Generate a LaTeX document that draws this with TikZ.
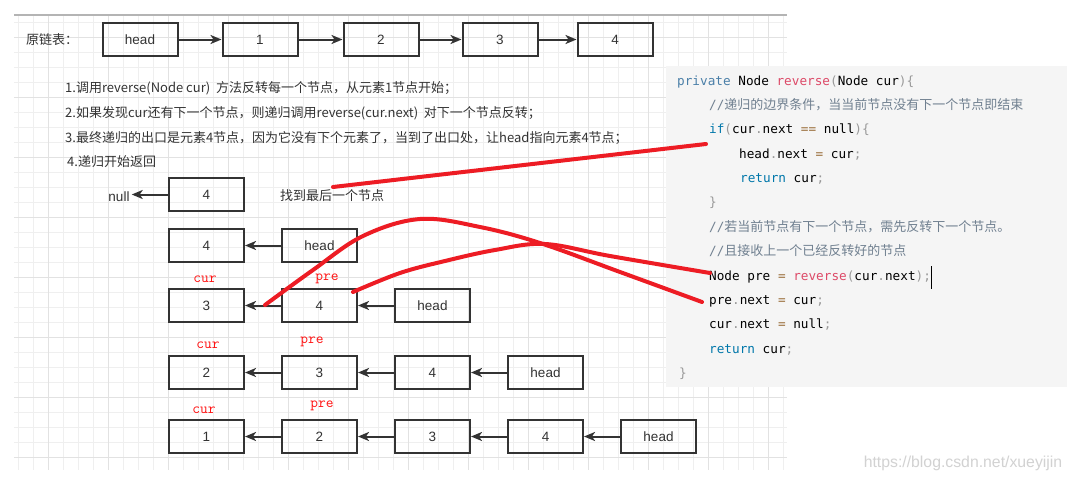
\documentclass[tikz,border=0pt]{standalone}
\usepackage{fontspec}
\setmainfont{Noto Sans CJK SC}
\newfontfamily\cjk{Noto Sans CJK SC}
\newfontfamily\codefont{DejaVu Sans Mono}
\newfontfamily\boxfont{Liberation Sans}
\usetikzlibrary{positioning,arrows.meta}

\definecolor{boxline}{HTML}{333333}
\definecolor{gridminor}{HTML}{EFEFEF}
\definecolor{gridmajor}{HTML}{E2E2E2}
\definecolor{pagetop}{HTML}{B4B4B4}
\definecolor{codebg}{HTML}{F5F5F5}
\definecolor{kwblue}{HTML}{0077AA}
\definecolor{kwmuted}{HTML}{4A7FA8}
\definecolor{fnred}{HTML}{DD4A68}
\definecolor{punct}{HTML}{999999}
\definecolor{oper}{HTML}{9A6E3A}
\definecolor{cmgray}{HTML}{708090}
\definecolor{penred}{HTML}{ED1C24}
\definecolor{tagred}{HTML}{FF1010}
\definecolor{wmgray}{HTML}{D2D2D2}

% code colouring
\newcommand{\ckw}[1]{\textcolor{kwblue}{#1}}
\newcommand{\cfn}[1]{\textcolor{fnred}{#1}}
\newcommand{\cpu}[1]{\textcolor{punct}{#1}}
\newcommand{\cop}[1]{\textcolor{oper}{#1}}
\newcommand{\ccm}[1]{\textcolor{cmgray}{//{\cjk\fontsize{13}{16}\selectfont #1}}}

\tikzset{
  cell/.style={draw=boxline, line width=2pt, minimum width=75pt, minimum height=33pt,
    inner sep=0pt, text=boxline, font=\boxfont\fontsize{13.5}{16}\selectfont},
  link/.style={draw=boxline, line width=2pt, -{Stealth[length=11pt,width=9pt,inset=3pt]}},
  tag/.style={text=tagred, font=\ttfamily\fontsize{15}{17}\selectfont, inner sep=0pt},
  note/.style={anchor=west, inner sep=0pt, text=boxline, font=\fontsize{13}{16}\selectfont},
  codeline/.style={anchor=west, inner sep=0pt, font=\codefont\fontsize{12.7}{16}\selectfont\strut},
  pen/.style={draw=penred, line width=4pt, line cap=round, line join=round},
}

\begin{document}
\begin{tikzpicture}[x=1pt, y=-1pt]
\useasboundingbox (0,0) rectangle (1072,482);
\fill[white] (0,0) rectangle (1072,482);

% grid of the drawing page
\foreach \k in {0,...,51}
  \draw[gridminor, line width=1pt] ({18.3+15*\k},15) -- ({18.3+15*\k},470);
\foreach \k in {0,...,29}
  \draw[gridminor, line width=1pt] (14,{22.3+15*\k}) -- (787,{22.3+15*\k});
\foreach \k in {0,...,12}
  \draw[gridmajor, line width=1pt] ({48.3+60*\k},15) -- ({48.3+60*\k},470);
\foreach \k in {0,...,7}
  \draw[gridmajor, line width=1pt] (14,{37.3+60*\k}) -- (787,{37.3+60*\k});
\draw[pagetop, line width=2pt] (14,15) -- (787,15);

% original list
\node[note, anchor=west] (title) at (26,40) {原链表：};
\node[cell] (h0) at (140,39.5) {head};
\node[cell, right=43pt of h0] (a1) {1};
\node[cell, right=44pt of a1] (a2) {2};
\node[cell, right=42pt of a2] (a3) {3};
\node[cell, right=38pt of a3] (a4) {4};
\draw[link] (h0) -- (a1);
\draw[link] (a1) -- (a2);
\draw[link] (a2) -- (a3);
\draw[link] (a3) -- (a4);

% steps
\node[note] (t1) at (65,88) {1.调用reverse(Node cur)\ \ 方法反转每一个节点，从元素1节点开始；};
\node[note] (t2) at (65,113) {2.如果发现cur还有下一个节点，则递归调用reverse(cur.next)\ \ 对下一个节点反转；};
\node[note] (t3) at (65,138) {3.最终递归的出口是元素4节点，因为它没有下个元素了，当到了出口处，让head指向元素4节点；};
\node[note] (t4) at (67,162) {4.递归开始返回};

% row 1
\node[cell] (b4) at (206.5,194.5) {4};
\node[text=boxline, font=\boxfont\fontsize{13.5}{16}\selectfont, inner sep=2pt] (bnull) at (119,197) {null};
\draw[link] (b4.west) -- (bnull.east |- b4.west);
\node[note] (found) at (280,196) {找到最后一个节点};

% row 2
\node[cell] (c4) at (206.5,245.5) {4};
\node[cell, right=36pt of c4] (chead) {head};
\draw[link] (chead) -- (c4);

% row 3
\node[cell] (d3) at (206.5,305.5) {3};
\node[cell, right=36pt of d3] (d4) {4};
\node[cell, right=36pt of d4] (dhead) {head};
\draw[link] (d4) -- (d3);
\draw[link] (dhead) -- (d4);
\node[tag] (dcur) at (205,279) {cur};
\node[tag] (dpre) at (327,279) {pre};

% row 4
\node[cell] (e2) at (206.5,372.5) {2};
\node[cell, right=36pt of e2] (e3) {3};
\node[cell, right=36pt of e3] (e4) {4};
\node[cell, right=36pt of e4] (ehead) {head};
\draw[link] (e3) -- (e2);
\draw[link] (e4) -- (e3);
\draw[link] (ehead) -- (e4);
\node[tag] (ecur) at (208,345) {cur};
\node[tag] (epre) at (312,342) {pre};

% row 5
\node[cell] (f1) at (206.5,436.5) {1};
\node[cell, right=36pt of f1] (f2) {2};
\node[cell, right=36pt of f2] (f3) {3};
\node[cell, right=36pt of f3] (f4) {4};
\node[cell, right=36pt of f4] (fhead) {head};
\draw[link] (f2) -- (f1);
\draw[link] (f3) -- (f2);
\draw[link] (f4) -- (f3);
\draw[link] (fhead) -- (f4);
\node[tag] (fcur) at (204,410) {cur};
\node[tag] (fpre) at (322,406) {pre};

% code
\fill[codebg] (666,66) rectangle (1067,387);
\node[codeline] (l1) at (677,82.7) {\textcolor{kwmuted}{private} Node \cfn{reverse}\cpu{(}Node cur\cpu{)\{}};
\node[codeline] (l2) at (709,106.7) {\ccm{递归的边界条件，当当前节点没有下一个节点即结束}};
\node[codeline] (l3) at (709,130.5) {\ckw{if}\cpu{(}cur\cpu{.}next \cop{==} null\cpu{)\{}};
\node[codeline] (l4) at (739,155.5) {head\cpu{.}next \cop{=} cur\cpu{;}};
\node[codeline] (l5) at (740,179.3) {\ckw{return} cur\cpu{;}};
\node[codeline] (l6) at (709,203.3) {\cpu{\}}};
\node[codeline] (l7) at (709,228) {\ccm{若当前节点有下一个节点，需先反转下一个节点。}};
\node[codeline] (l8) at (709,252) {\ccm{且接收上一个已经反转好的节点}};
\node[codeline] (l9) at (709,277.3) {Node pre \cop{=} \cfn{reverse}\cpu{(}cur\cpu{.}next\cpu{);}};
\node[codeline] (l10) at (709,301.7) {pre\cpu{.}next \cop{=} cur\cpu{;}};
\node[codeline] (l11) at (709,325.7) {cur\cpu{.}next \cop{=} null\cpu{;}};
\node[codeline] (l12) at (709,350) {\ckw{return} cur\cpu{;}};
\node[codeline] (l13) at (679,374) {\cpu{\}}};
\draw[black, line width=0.8pt] (931.5,266) -- (931.5,289);

% hand-drawn marks
\coordinate (m1s) at (333,187);
\coordinate (m1e) at (706,144);
\draw[pen] (m1s) -- (m1e);
\draw[pen] plot[smooth, tension=0.6] coordinates
  {(265,305) (313,270) (363,236) (420,219) (480,227) (540,243) (620,272) (702,302)};
\draw[pen] plot[smooth, tension=0.6] coordinates
  {(353,292) (400,273) (445,261) (495,250) (545,244) (610,256) (710,273)};

\node[text=wmgray, font=\boxfont\fontsize{15.8}{18}\selectfont] (mark) at (963,463) {https://blog.csdn.net/xueyijin};
\end{tikzpicture}
\end{document}
